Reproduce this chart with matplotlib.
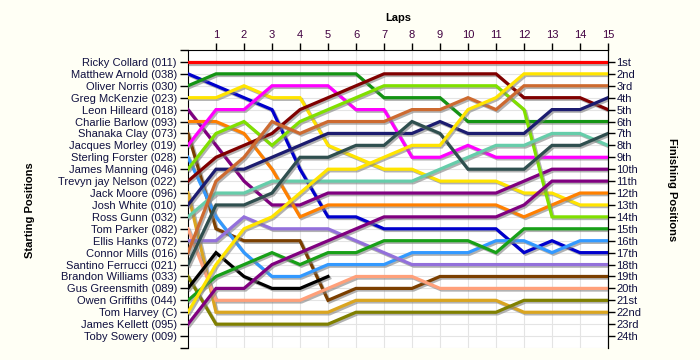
import numpy as np
import matplotlib
matplotlib.use('Agg')
import matplotlib.pyplot as plt
import matplotlib.patheffects as pe

plt.rcParams['font.family'] = ['Liberation Sans', 'DejaVu Sans']

# starting grid order, top to bottom
drivers = ['Ricky Collard (011)', 'Matthew Arnold (038)', 'Oliver Norris (030)',
           'Greg McKenzie (023)', 'Leon Hilleard (018)', 'Charlie Barlow (093)',
           'Shanaka Clay (073)', 'Jacques Morley (019)', 'Sterling Forster (028)',
           'James Manning (046)', 'Trevyn jay Nelson (022)', 'Jack Moore (096)',
           'Josh White (010)', 'Ross Gunn (032)', 'Tom Parker (082)',
           'Ellis Hanks (072)', 'Connor Mills (016)', 'Santino Ferrucci (021)',
           'Brandon Williams (033)', 'Gus Greensmith (089)', 'Owen Griffiths (044)',
           'Tom Harvey (C)', 'James Kellett (095)', 'Toby Sowery (009)']

colours = ['#ff0000', '#0000cc', '#149414', '#ffe400', '#800080', '#ff8000',
           '#7b3f00', '#ff00ff', '#3399ff', '#80e000', '#800000', '#daa520',
           '#1c1c70', '#66cdaa', '#ffa07a', '#9370db', '#cd6a30', '#2f4f4f',
           '#808000', '#000000', '#18a018', '#ffe400', '#800080', None]

laps = list(range(16))
n = np.nan
# position of each driver at laps 0..15
positions = [
    [1, 1, 1, 1, 1, 1, 1, 1, 1, 1, 1, 1, 1, 1, 1, 1],
    [2, 3, 4, 5, 10, 14, 14, 15, 15, 15, 15, 15, 17, 16, 17, 17],
    [3, 2, 2, 2, 2, 2, 2, 4, 4, 4, 6, 6, 6, 6, 6, 6],
    [4, 4, 3, 4, 4, 8, 9, 10, 10, 11, 11, 11, 12, 12, 13, 13],
    [5, 8, 11, 13, 13, 12, 12, 12, 12, 12, 12, 12, 11, 10, 10, 10],
    [6, 6, 7, 10, 14, 13, 13, 13, 13, 13, 13, 13, 14, 13, 12, 12],
    [7, 15, 16, 16, 16, 21, 20, 20, 20, 19, 19, 19, 19, 19, 19, 19],
    [8, 5, 5, 3, 3, 3, 5, 5, 9, 9, 8, 9, 9, 9, 9, 9],
    [9, 14, 17, 19, 19, 18, 18, 18, 17, 17, 17, 16, 16, 17, 16, 16],
    [10, 7, 6, 8, 6, 5, 4, 3, 3, 3, 3, 3, 5, 14, 14, 14],
    [11, 9, 8, 7, 5, 4, 3, 2, 2, 2, 2, 2, 4, 4, 4, 5],
    [12, 22, 22, 22, 22, 22, 21, 21, 21, 21, 21, 21, 22, 22, 22, 22],
    [13, 10, 10, 9, 8, 7, 7, 7, 7, 6, 7, 7, 7, 5, 5, 4],
    [14, 12, 12, 11, 11, 11, 11, 11, 11, 10, 9, 8, 8, 7, 7, 8],
    [15, 21, 21, 21, 21, 20, 19, 19, 19, 20, 20, 20, 20, 20, 20, 20],
    [16, 16, 14, 15, 15, 15, 16, 17, 18, 18, 18, 18, 18, 18, 18, 18],
    [17, 11, 9, 6, 7, 6, 6, 6, 5, 5, 4, 5, 3, 3, 3, 3],
    [18, 13, 13, 12, 9, 9, 8, 8, 6, 7, 10, 10, 10, 8, 8, 7],
    [19, 23, 23, 23, 23, 23, 22, 22, 22, 22, 22, 22, 21, 21, 21, 21],
    [20, 17, 19, 20, 20, 19, n, n, n, n, n, n, n, n, n, n],
    [21, 19, 18, 17, 18, 17, 17, 16, 16, 16, 16, 17, 15, 15, 15, 15],
    [22, 18, 15, 14, 12, 10, 10, 9, 8, 8, 5, 4, 2, 2, 2, 2],
    [23, 20, 20, 18, 17, 16, 15, 14, 14, 14, 14, 14, 13, 11, 11, 11],
    [n] * 16,
]

finish_labels = ['1st', '2nd', '3rd'] + ['%dth' % i for i in range(4, 21)] + \
                ['21st', '22nd', '23rd', '24th']

fig = plt.figure(figsize=(7, 3.6), dpi=100, facecolor='#fffff5')
ax = fig.add_axes([188 / 700, 12 / 360, 420 / 700, 298 / 360])
ax.set_facecolor('white')

shadow = [pe.SimpleLineShadow(offset=(1.2, -1.2), shadow_color='#808080', alpha=0.6),
          pe.Normal()]
for name, col, pos in zip(drivers, colours, positions):
    if col is None:
        continue
    ax.plot(laps, pos, color=col, lw=2.3, solid_joinstyle='miter',
            path_effects=shadow, zorder=3)

ax.set_xlim(0, 15)
ax.set_ylim(25, 0)

ax.set_xticks(range(1, 16))
ax.xaxis.tick_top()
ax.tick_params(axis='x', direction='out', length=5, width=1, labelsize=8,
               pad=2, labelcolor='#400040')
ax.set_yticks(range(0, 26))
ax.set_yticklabels([''] + drivers + [''], fontsize=8, color='#101040')
ax.tick_params(axis='y', direction='out', length=6, width=1, pad=2)

ax2 = ax.twinx()
ax2.set_ylim(25, 0)
ax2.set_yticks(range(1, 25))
ax2.set_yticklabels(finish_labels, fontsize=8, color='#101040')
ax2.tick_params(axis='y', direction='out', length=5, width=1, pad=1)

for a in (ax, ax2):
    a.spines['bottom'].set_visible(False)
ax2.spines['left'].set_visible(False)
ax2.spines['top'].set_visible(False)

ax.grid(True, color='#e4e4e4', lw=0.8, zorder=0)
ax.set_axisbelow(True)

fig.text(398 / 700, 1 - 18 / 360, 'Laps', ha='center', va='center',
         fontsize=8, fontweight='bold')
fig.text(30 / 700, 1 - 210 / 360, 'Starting Positions', ha='center', va='center',
         rotation=90, fontsize=8, fontweight='bold')
fig.text(672 / 700, 1 - 190 / 360, 'Finishing Positions', ha='center', va='center',
         rotation=270, fontsize=8, fontweight='bold')

fig.savefig('out.png', dpi=100, facecolor=fig.get_facecolor())
